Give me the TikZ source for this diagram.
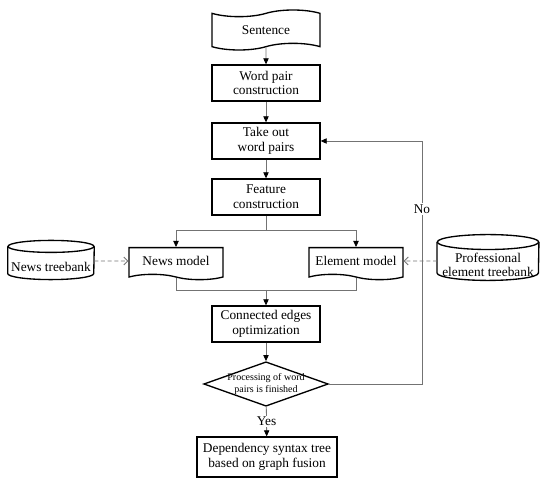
\documentclass[tikz,border=0pt]{standalone}
\usepackage{fontspec}
\setmainfont{Liberation Serif}
\usetikzlibrary{arrows.meta, calc, shapes.geometric, shapes.symbols}

\begin{document}
\begin{tikzpicture}[x=0.75pt, y=-0.75pt, >={Triangle[length=4.5pt, width=4pt, color=black]}, every node/.style={font=\fontsize{10}{11}\selectfont},
  procbox/.style={draw, line width=1pt, align=center, minimum width=81pt, minimum height=27pt, inner sep=1pt},
  tapebox/.style={draw, line width=1pt, tape, tape bend height=5pt, align=center, minimum width=81pt, minimum height=30pt},
  docbox/.style={draw, line width=1pt, tape, tape bend top=none, tape bend bottom=out and in, tape bend height=4pt, align=center, minimum width=70.5pt, minimum height=24pt},
  bankdb/.style={inner sep=1pt},
  dbline/.style={line width=1pt},
  decision/.style={draw, line width=1pt, diamond, aspect=2.8, inner sep=-1pt, align=center, font=\fontsize{7.5}{8.5}\selectfont},
  flowline/.style={draw=black!55, line width=0.6pt}]
  \useasboundingbox (0,0) rectangle (550,484);
  \node[tapebox] (sentence) at (266,30) {Sentence};
  \node[procbox] (wordpair) at (266,83) {Word pair\\construction};
  \node[procbox] (takeout) at (266,141) {Take out\\word pairs};
  \node[procbox] (feature) at (266,197) {Feature\\construction};
  \node[docbox] (newsmodel) at (176,261) {News model};
  \node[docbox] (elemmodel) at (356,261) {Element model};
  \node[bankdb, minimum width=64.5pt, minimum height=29pt] (newsbank) at (51,260) {\raisebox{-9pt}[0pt][0pt]{News treebank}};
  \draw[dbline] ($(newsbank.north)+(0,-4.5pt)$) ellipse[x radius=32.25pt, y radius=4.5pt];
  \draw[dbline] ($(newsbank.north west)+(0,-4.5pt)$) -- ($(newsbank.south west)+(0,4.5pt)$) arc[start angle=180, end angle=360, x radius=32.25pt, y radius=4.5pt] -- ($(newsbank.north east)+(0,-4.5pt)$);
  \node[bankdb, minimum width=76pt, minimum height=34pt] (profbank) at (488,257.5) {\raisebox{-3.4pt}[0pt][0pt]{\begin{tabular}[t]{@{}c@{}}Professional\\element treebank\end{tabular}}};
  \draw[dbline] ($(profbank.north)+(0,-5.6pt)$) ellipse[x radius=38pt, y radius=5.6pt];
  \draw[dbline] ($(profbank.north west)+(0,-5.6pt)$) -- ($(profbank.south west)+(0,5.6pt)$) arc[start angle=180, end angle=360, x radius=38pt, y radius=5.6pt] -- ($(profbank.north east)+(0,-5.6pt)$);
  \node[procbox] (connected) at (266,324) {Connected edges\\optimization};
  \node[decision] (finished) at (266,384) {Processing of word\\pairs is finished};
  \node[procbox, minimum width=105pt, minimum height=30pt] (syntaxtree) at (267,457) {Dependency syntax tree\\based on graph fusion};
  \coordinate (split) at (266,230);
  \coordinate (merge) at (266,290);
  \coordinate (loopback) at (422,141);
  \draw[flowline, ->] (sentence) -- (wordpair);
  \draw[flowline, ->] (wordpair) -- (takeout);
  \draw[flowline, ->] (takeout) -- (feature);
  \draw[flowline] (feature) -- (split);
  \draw[flowline, ->] (split) -| (newsmodel);
  \draw[flowline, ->] (split) -| (elemmodel);
  \draw[flowline] (newsmodel) |- (merge);
  \draw[flowline] (elemmodel) |- (merge);
  \draw[flowline, ->] (merge) -- (connected);
  \draw[flowline, ->] (connected) -- (finished);
  \draw[flowline, ->] (finished) -- (syntaxtree) node[midway, fill=white, inner sep=1pt] {Yes};
  \draw[flowline, ->] (finished) -| (loopback) node[pos=0.86, fill=white, inner sep=1pt] {No} -- (takeout);
  \draw[flowline, dashed, dash pattern=on 3pt off 2pt, -{Straight Barb[length=3pt, width=6pt]}] (newsbank.east |- newsmodel) -- (newsmodel);
  \draw[flowline, dashed, dash pattern=on 3pt off 2pt, -{Straight Barb[length=3pt, width=6pt]}] (profbank.west |- elemmodel) -- (elemmodel);
\end{tikzpicture}
\end{document}
